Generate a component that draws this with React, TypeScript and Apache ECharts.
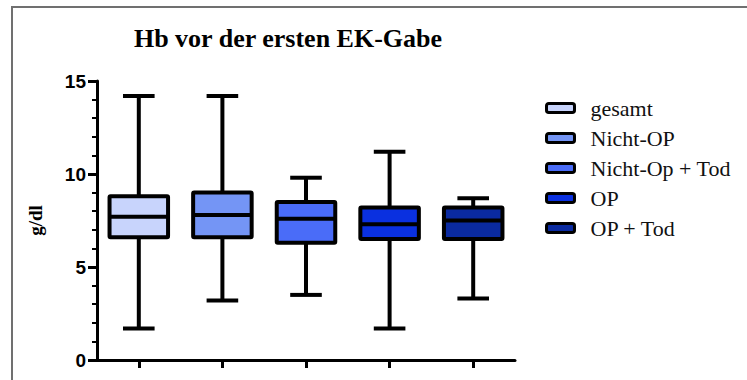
import React, { useEffect, useRef } from "react";
import * as echarts from "echarts";

const categories = ["gesamt", "Nicht-OP", "Nicht-Op + Tod", "OP", "OP + Tod"];
const mins = [1.7, 3.2, 3.5, 1.7, 3.3];
const q1s = [6.6, 6.6, 6.3, 6.5, 6.5];
const medians = [7.7, 7.8, 7.6, 7.3, 7.5];
const q3s = [8.8, 9.0, 8.5, 8.2, 8.2];
const maxs = [14.2, 14.2, 9.8, 11.2, 8.7];
const colors = ["#c8d4fc", "#7495f5", "#4a6cf8", "#0a30e0", "#0a2aa0"];
const yTicks = [0, 5, 10, 15];

export default function App() {
  const ref = useRef<HTMLDivElement>(null);
  useEffect(() => {
    if (!ref.current) return;
    const chart = echarts.init(ref.current, undefined, { renderer: "svg" });
    const renderItem = (params: any, api: any) => {
      const x = api.value(0);
      const pMin = api.coord([x, api.value(1)]);
      const pQ1 = api.coord([x, api.value(2)]);
      const pMed = api.coord([x, api.value(3)]);
      const pQ3 = api.coord([x, api.value(4)]);
      const pMax = api.coord([x, api.value(5)]);
      const band = api.size([1, 0])[0];
      const boxW = band * 0.7;
      const capW = boxW * 0.54;
      const cx = pMed[0];
      const stroke = { stroke: "#000", lineWidth: 4 };
      return {
        type: "group",
        children: [
          { type: "line", shape: { x1: cx, y1: pMax[1], x2: cx, y2: pQ3[1] }, style: stroke },
          { type: "line", shape: { x1: cx, y1: pQ1[1], x2: cx, y2: pMin[1] }, style: stroke },
          { type: "line", shape: { x1: cx - capW / 2, y1: pMax[1], x2: cx + capW / 2, y2: pMax[1] }, style: stroke },
          { type: "line", shape: { x1: cx - capW / 2, y1: pMin[1], x2: cx + capW / 2, y2: pMin[1] }, style: stroke },
          {
            type: "rect",
            shape: { x: cx - boxW / 2, y: pQ3[1], width: boxW, height: pQ1[1] - pQ3[1], r: 1 },
            style: { fill: api.visual("color"), stroke: "#000", lineWidth: 4 },
          },
          { type: "line", shape: { x1: cx - boxW / 2, y1: pMed[1], x2: cx + boxW / 2, y2: pMed[1] }, style: stroke },
        ],
      };
    };
    const series = categories.map((name, i) => ({
      name,
      type: "custom",
      renderItem,
      itemStyle: { color: colors[i], borderColor: "#000", borderWidth: 3 },
      encode: { x: 0, y: [1, 2, 3, 4, 5] },
      data: [[i, mins[i], q1s[i], medians[i], q3s[i], maxs[i]]],
    }));
    chart.setOption({
      animation: false,
      grid: { left: 97, right: 232, top: 81, bottom: 20 },
      xAxis: {
        type: "category",
        data: categories,
        boundaryGap: true,
        axisLine: { show: true, lineStyle: { color: "#000", width: 3 } },
        axisTick: { show: true, interval: 0, alignWithLabel: true, length: 8, lineStyle: { color: "#000", width: 3 } },
        axisLabel: { show: false },
        splitLine: { show: false },
      },
      yAxis: {
        type: "value",
        min: yTicks[0],
        max: yTicks[yTicks.length - 1],
        interval: 5,
        name: "g/dl",
        nameLocation: "middle",
        nameRotate: 90,
        nameGap: 52,
        nameTextStyle: { fontFamily: "Liberation Serif", fontWeight: "bold", fontSize: 19, color: "#000" },
        axisLine: { show: true, lineStyle: { color: "#000", width: 3 } },
        axisTick: { show: true, length: 9, lineStyle: { color: "#000", width: 3 } },
        minorTick: { show: true, splitNumber: 5, length: 5, lineStyle: { color: "#000", width: 2 } },
        axisLabel: { fontFamily: "Liberation Sans", fontWeight: "bold", fontSize: 19, color: "#000", margin: 11 },
        splitLine: { show: false },
      },
      legend: {
        orient: "vertical",
        left: 540,
        top: 92,
        icon: "roundRect",
        itemWidth: 28,
        itemHeight: 9,
        itemGap: 8,
        itemStyle: { borderColor: "#000", borderWidth: 3 },
        textStyle: { fontFamily: "Liberation Serif", fontSize: 22, color: "#111", padding: [0, 0, 0, 11] },
        data: categories,
      },
      graphic: [
        {
          type: "polyline",
          shape: { points: [[12, 380], [12, 7], [747, 7]] },
          style: { stroke: "#707070", lineWidth: 2, fill: null },
        },
        {
          type: "text",
          x: 288,
          y: 38,
          style: {
            text: "Hb vor der ersten EK-Gabe",
            fontFamily: "Liberation Serif",
            fontWeight: "bold",
            fontSize: 26,
            fill: "#000",
            textAlign: "center",
            textVerticalAlign: "middle",
          },
        },
      ],
      series,
    });
    return () => chart.dispose();
  }, []);
  return <div ref={ref} style={{ width: 747, height: 380, position: "absolute", left: 0, top: 0 }} />;
}
